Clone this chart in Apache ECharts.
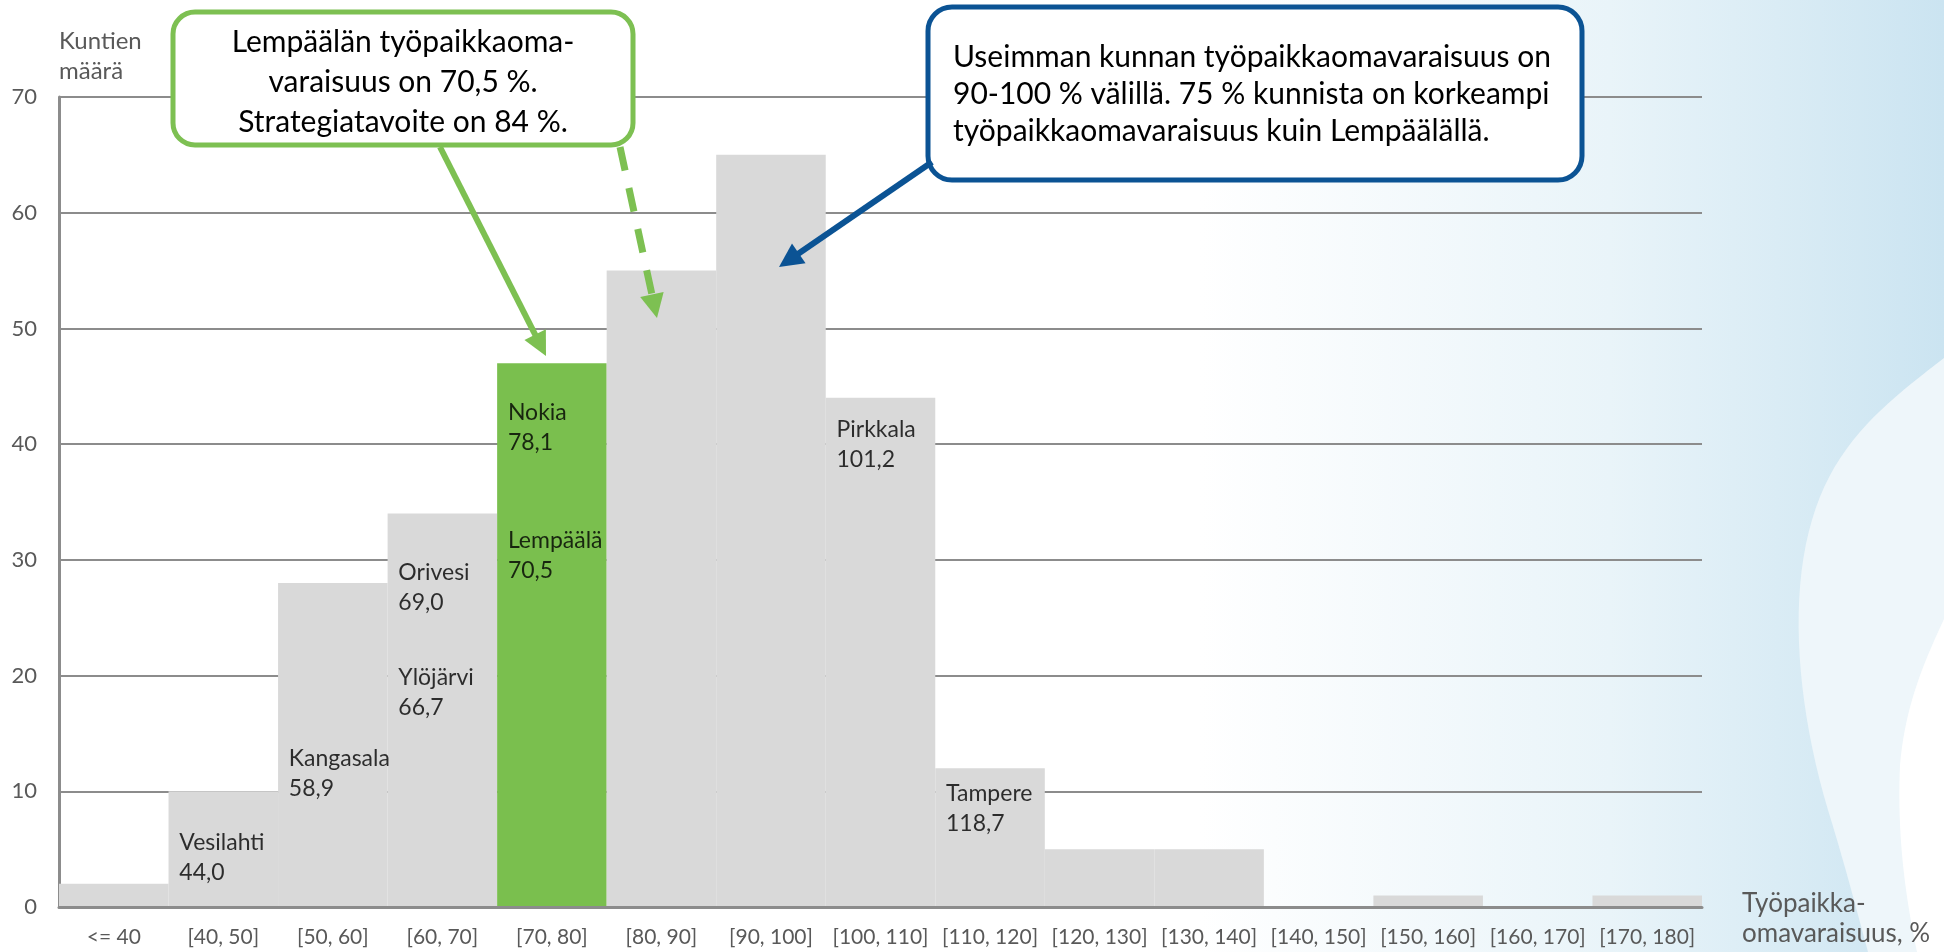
<!DOCTYPE html>
<html>
<head>
<meta charset="utf-8">
<script src="https://cdn.jsdelivr.net/npm/echarts@6/dist/echarts.min.js"></script>
<style>
    html, body { margin: 0; padding: 0; background: #fff; }
    #chart { width: 1944px; height: 952px; }
</style>
</head>
<body>
<div id="chart"></div>
<script>
// histogram bins (työpaikkaomavaraisuus, %) and municipality counts
var categories = ['<= 40', '[40, 50]', '[50, 60]', '[60, 70]', '[70, 80]', '[80, 90]', '[90, 100]',
    '[100, 110]', '[110, 120]', '[120, 130]', '[130, 140]', '[140, 150]', '[150, 160]', '[160, 170]', '[170, 180]'];
var counts = [2, 10, 28, 34, 47, 55, 65, 44, 12, 5, 5, 0, 1, 0, 1];
var highlightBin = 4;

// named municipalities shown inside the bars
var cityNames = ['Vesilahti', 'Kangasala', 'Ylöjärvi', 'Orivesi', 'Lempäälä', 'Nokia', 'Pirkkala', 'Tampere'];
var cityValues = [44.0, 58.9, 66.7, 69.0, 70.5, 78.1, 101.2, 118.7];
var cityBins = [1, 2, 3, 3, 4, 4, 7, 8];
var cityLabelHeights = [4.3, 11.5, 18.5, 27.6, 30.4, 41.4, 40.0, 8.5];

var GREY = '#d9d9d9';
var GREEN = '#7abf4e';
var BLUE = '#0b5394';
var AXIS = '#8c8c8c';
var TXT = '#595959';
var FONT = 'Lato';

var fmt = function (v) {
    return v.toFixed(1).replace('.', ',');
};

// arrow = line + triangle head, tip at (x2, y2)
var arrow = function (x1, y1, x2, y2, color, width, dash) {
    var dx = x2 - x1, dy = y2 - y1;
    var len = Math.sqrt(dx * dx + dy * dy);
    var ux = dx / len, uy = dy / len;
    var hl = 24, hw = 12;
    var bx = x2 - ux * hl, by = y2 - uy * hl;
    return [{
        type: 'line',
        z: 100,
        shape: {x1: x1, y1: y1, x2: bx + ux * 2, y2: by + uy * 2},
        style: {stroke: color, lineWidth: width, lineDash: dash || null}
    }, {
        type: 'polygon',
        z: 100,
        shape: {points: [[x2, y2], [bx - uy * hw, by + ux * hw], [bx + uy * hw, by - ux * hw]]},
        style: {fill: color}
    }];
};

// sample a chain of cubic beziers into polygon points (decoration only)
var bezierPts = function (start, segs) {
    var pts = [start];
    var p0 = start;
    segs.forEach(function (s) {
        for (var k = 1; k <= 20; k++) {
            var t = k / 20, m = 1 - t;
            pts.push([
                m * m * m * p0[0] + 3 * m * m * t * s[0][0] + 3 * m * t * t * s[1][0] + t * t * t * s[2][0],
                m * m * m * p0[1] + 3 * m * m * t * s[0][1] + 3 * m * t * t * s[1][1] + t * t * t * s[2][1]
            ]);
        }
        p0 = s[2];
    });
    return pts;
};

var chart = echarts.init(document.getElementById('chart'));

var barData = counts.map(function (v, i) {
    return {value: v, itemStyle: {color: i === highlightBin ? GREEN : GREY}};
});

var labelData = cityNames.map(function (n, i) {
    return {value: [cityBins[i], cityLabelHeights[i]], name: n + '\n' + fmt(cityValues[i])};
});

var swooshOuter = bezierPts([1944, 358], [
    [[1890, 400], [1835, 440], [1812, 520]],
    [[1788, 600], [1798, 710], [1828, 810]],
    [[1845, 865], [1858, 915], [1868, 952]]
]).concat([[1944, 952]]);
var swooshInner = bezierPts([1944, 619], [
    [[1925, 660], [1905, 705], [1900, 765]],
    [[1897, 835], [1905, 895], [1917, 952]]
]).concat([[1944, 952]]);

var graphics = [
    // background tint on the right
    {
        type: 'rect', z: -100, silent: true,
        shape: {x: 1200, y: 0, width: 744, height: 952},
        style: {
            fill: new echarts.graphic.LinearGradient(0, 0, 1, 0, [
                {offset: 0, color: 'rgba(255,255,255,1)'},
                {offset: 0.55, color: '#e9f4f9'},
                {offset: 1, color: '#cbe4f1'}
            ])
        }
    },
    {type: 'polygon', z: -99, silent: true, shape: {points: swooshOuter}, style: {fill: '#eef6fa'}},
    {type: 'polygon', z: -98, silent: true, shape: {points: swooshInner}, style: {fill: '#ffffff'}},
    // axis titles
    {
        type: 'text', z: 50, x: 59, y: 56,
        style: {
            text: 'Kuntien\nmäärä', font: '24px ' + FONT, fill: TXT,
            align: 'left', verticalAlign: 'middle', lineHeight: 30
        }
    },
    {
        type: 'text', z: 50, x: 1742, y: 919,
        style: {
            text: 'Työpaikka-\nomavaraisuus, %', font: '26px ' + FONT, fill: TXT,
            align: 'left', verticalAlign: 'middle', lineHeight: 30
        }
    },
    // green callout
    {
        type: 'rect', z: 100,
        shape: {x: 173, y: 12, width: 460, height: 133, r: 22},
        style: {fill: '#fff', stroke: '#7dc052', lineWidth: 5}
    },
    {
        type: 'text', z: 101,
        x: 403, y: 82,
        style: {
            text: 'Lempäälän työpaikkaoma-\nvaraisuus on 70,5 %.\nStrategiatavoite on 84 %.',
            font: '30px ' + FONT, fill: '#000', align: 'center', verticalAlign: 'middle', lineHeight: 40
        }
    },
    // blue callout
    {
        type: 'rect', z: 100,
        shape: {x: 928, y: 7, width: 654, height: 173, r: 24},
        style: {fill: '#fff', stroke: BLUE, lineWidth: 5}
    },
    {
        type: 'text', z: 101,
        x: 953, y: 94,
        style: {
            text: 'Useimman kunnan työpaikkaomavaraisuus on\n90-100 % välillä. 75 % kunnista on korkeampi\ntyöpaikkaomavaraisuus kuin Lempäälällä.',
            font: '30px ' + FONT, fill: '#000', align: 'left', verticalAlign: 'middle', lineHeight: 37
        }
    }
];
graphics = graphics
    .concat(arrow(440, 147, 546, 356, '#7dc052', 6))
    .concat(arrow(620, 147, 657, 318, '#7dc052', 7, [24, 18]))
    .concat(arrow(932, 162, 779, 267, BLUE, 6));

var option = {
    animation: false,
    backgroundColor: '#fff',
    textStyle: {fontFamily: FONT},
    grid: {left: 59, right: 242, top: 97, bottom: 45, containLabel: false},
    xAxis: {
        type: 'category',
        data: categories,
        z: 5,
        axisLine: {lineStyle: {color: AXIS, width: 3}},
        axisTick: {show: false},
        axisLabel: {color: TXT, fontSize: 21, margin: 20, interval: 0}
    },
    yAxis: {
        type: 'value',
        min: 0,
        max: 70,
        interval: 10,
        axisLine: {show: true, lineStyle: {color: AXIS, width: 3}},
        axisTick: {show: false},
        splitLine: {lineStyle: {color: AXIS, width: 2}},
        axisLabel: {color: TXT, fontSize: 22, margin: 22}
    },
    graphic: graphics,
    series: [
        {
            type: 'bar',
            data: barData,
            barWidth: '100%',
            barCategoryGap: '0%',
            silent: true
        },
        {
            type: 'scatter',
            data: labelData,
            symbolSize: 0,
            silent: true,
            z: 10,
            label: {
                show: true,
                position: 'inside',
                align: 'left',
                verticalAlign: 'middle',
                offset: [-44, 0],
                formatter: function (p) {
                    return p.name;
                },
                color: '#000',
                fontSize: 23,
                lineHeight: 30,
                fontFamily: FONT
            }
        }
    ]
};

chart.setOption(option);
</script>
</body>
</html>
